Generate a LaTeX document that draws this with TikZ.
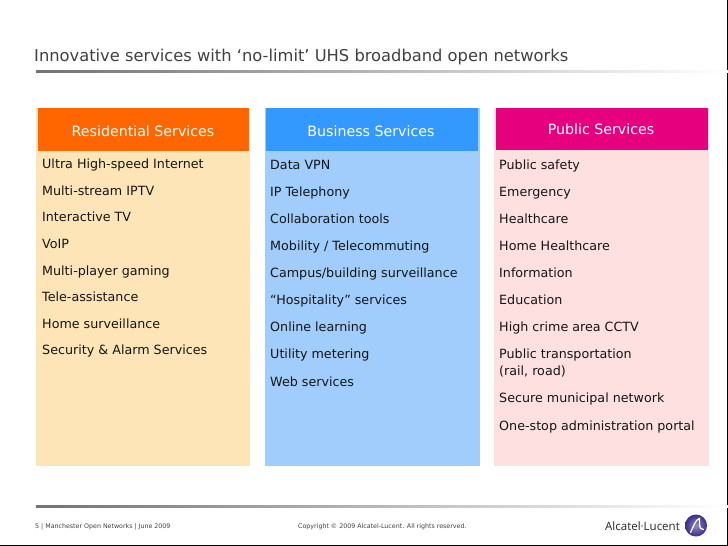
\documentclass[tikz,border=0pt]{standalone}
\usepackage{fontspec}
\setmainfont{DejaVu Sans}
\newfontfamily\logofont{Open Sans}
\definecolor{resbody}{HTML}{FDE5B8}
\definecolor{reshead}{HTML}{FF6600}
\definecolor{busbody}{HTML}{A0CDFC}
\definecolor{bushead}{HTML}{3399FF}
\definecolor{pubbody}{HTML}{FFE0E0}
\definecolor{pubhead}{HTML}{E6007E}
\definecolor{ink}{HTML}{151515}
\definecolor{logoblue}{HTML}{3A2A8C}
\tikzset{
  x=1bp,y=-1bp,
  itembase/.style={anchor=west,inner sep=0pt,yshift=-1bp,text=ink,font=\fontsize{12.7bp}{17bp}\selectfont,align=left},
  item/.style={itembase,text height=10bp,text depth=3bp},
  headtext/.style={anchor=center,inner sep=0pt,text=white,font=\fontsize{14.2bp}{17bp}\selectfont},
  foot/.style={anchor=west,inner sep=0pt,text=black!75,font=\fontsize{6.3bp}{7bp}\selectfont},
  rulegrad/.style={left color=black!55,right color=white,draw=none}
}
\begin{document}
\begin{tikzpicture}
\useasboundingbox (0,0) rectangle (728,546);
\fill[white] (0,0) rectangle (728,546);
\draw[black,line width=1bp] (0,545.5) -- (727.5,545.5) -- (727.5,0);
\node[anchor=west,inner sep=0pt,text=black!75,font=\fontsize{16.3bp}{19bp}\selectfont] (title) at (34,57) {Innovative services with ‘no-limit’ UHS broadband open networks};
\shade[rulegrad] (36,71) rectangle (728,72.5);
\shade[rulegrad] (36,505.5) rectangle (728,507);
% columns
\fill[resbody] (36,108) rectangle (250,466);
\fill[reshead] (38,108) rectangle (249,151);
\fill[busbody] (265,108) rectangle (480,466);
\fill[bushead] (266,108) rectangle (478,151);
\fill[pubbody] (494,108) rectangle (709,466);
\fill[pubhead] (496,108) rectangle (708,150);
\node[headtext] (h1) at (143,131) {Residential Services};
\node[headtext] (h2) at (371,131) {Business Services};
\node[headtext] (h3) at (601,129) {Public Services};
% residential
\node[item] (r1) at (42,164) {Ultra High-speed Internet};
\node[item] (r2) at (42,191) {Multi-stream IPTV};
\node[item] (r3) at (42,217) {Interactive TV};
\node[item] (r4) at (42,244) {VoIP};
\node[item] (r5) at (42,271) {Multi-player gaming};
\node[item] (r6) at (42,297) {Tele-assistance};
\node[item] (r7) at (42,324) {Home surveillance};
\node[item] (r8) at (42,350) {Security \& Alarm Services};
% business
\node[item] (b1) at (270,165) {Data VPN};
\node[item] (b2) at (270,192) {IP Telephony};
\node[item] (b3) at (270,219) {Collaboration tools};
\node[item] (b4) at (270,246) {Mobility / Telecommuting};
\node[item] (b5) at (270,273) {Campus/building surveillance};
\node[item] (b6) at (270,300) {“Hospitality” services};
\node[item] (b7) at (270,327) {Online learning};
\node[item] (b8) at (270,354) {Utility metering};
\node[item] (b9) at (270,382) {Web services};
% public
\node[item] (p1) at (499,165) {Public safety};
\node[item] (p2) at (499,192) {Emergency};
\node[item] (p3) at (499,219) {Healthcare};
\node[item] (p4) at (499,246) {Home Healthcare};
\node[item] (p5) at (499,273) {Information};
\node[item] (p6) at (499,300) {Education};
\node[item] (p7) at (499,327) {High crime area CCTV};
\node[itembase] (p8) at (499,362.5) {Public transportation\\(rail, road)};
\node[item] (p9) at (499,398) {Secure municipal network};
\node[item] (p10) at (499,426) {One-stop administration portal};
% footer
\node[foot] (f1) at (35,527) {5 | Manchester Open Networks | June 2009};
\node[foot] (f2) at (298,527) {Copyright © 2009 Alcatel-Lucent. All rights reserved.};
\node[anchor=west,inner sep=0pt,text=black!85,font=\logofont\fontsize{11.5bp}{13bp}\selectfont] (logo) at (605,526) {Alcatel·Lucent};
\shade[inner color=logoblue!55,outer color=logoblue] (696,525.5) circle (11);
\draw[white,line width=1.3bp,line cap=round] (690.5,532.5) .. controls (693.5,526.5) and (695.5,519.5) .. (699.5,518.5) .. controls (699.5,523.5) and (698.5,529.5) .. (703.5,529.5);
\end{tikzpicture}
\end{document}
